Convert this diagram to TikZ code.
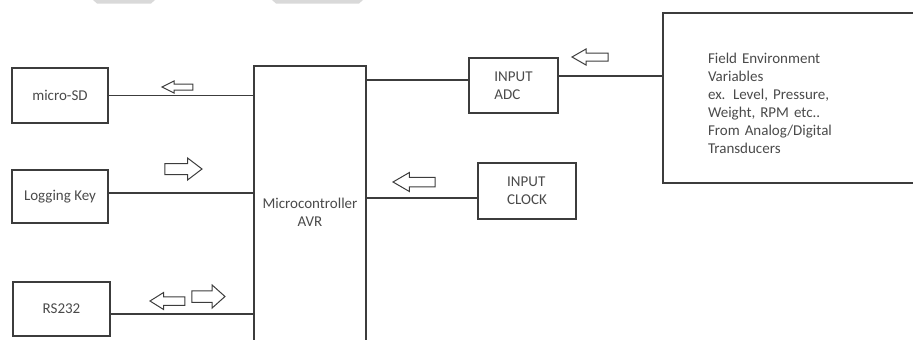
\documentclass[tikz,border=0pt]{standalone}
\usepackage{fontspec}
\setmainfont{Carlito}
\definecolor{linegrey}{HTML}{3C3C3C}
\definecolor{txtgrey}{HTML}{4A4A4A}
\definecolor{tabgrey}{HTML}{D9D9D9}
\begin{document}
\begin{tikzpicture}[
        x=1pt, y=-1pt,
        line width=1.2pt,
        every node/.style={font=\fontsize{15}{18}\selectfont, text=txtgrey},
        block/.style={draw=linegrey, rectangle, inner sep=0pt},
        wire/.style={draw=linegrey},
        hollow/.pic={\draw[linegrey, line width=1pt, line join=miter]
            (0,0) -- (14,-10) -- (14,-5) -- (36,-5) -- (36,5) -- (14,5) -- (14,10) -- cycle;},
    ]
        \useasboundingbox (0,0) rectangle (913,340);
        \clip (0,0) rectangle (913,340);

        % Tabs at the top edge
        \fill[tabgrey] (93,0) -- (155,0) -- (151,3.5) -- (97,3.5) -- cycle;
        \fill[tabgrey] (272,0) -- (363,0) -- (359,3.5) -- (276,3.5) -- cycle;

        % Blocks
        \node[block, minimum width=96pt, minimum height=55pt] (sd) at (60,95.5) {micro-SD};
        \node[block, minimum width=96pt, minimum height=53pt] (key) at (60,196.5) {Logging Key};
        \node[block, minimum width=97pt, minimum height=54pt] (rs) at (61.5,309) {RS232};
        \node[block, minimum width=112pt, minimum height=292pt, align=center] (mcu) at (310,212) {Microcontroller\\AVR};
        \node[block, minimum width=89pt, minimum height=55pt, align=left] (adc) at (513.5,85.5) {INPUT\\ADC};
        \node[block, minimum width=98pt, minimum height=56pt, align=left] (clock) at (527,191) {INPUT\\CLOCK};
        \node[block, minimum height=170pt, text width=200pt, text height=21pt, inner xsep=45pt, align=left] (field) at (808,98)
            {Field Environment\\Variables\\ex. Level, Pressure,\\Weight, RPM etc..\\From Analog/Digital\\Transducers};

        % Connections
        \draw[wire] (sd.east) -- (sd.east -| mcu.west);
        \draw[wire] ([yshift=3.5pt]key.east) -- ([yshift=3.5pt]key.east -| mcu.west);
        \draw[wire] ([yshift=-5pt]rs.east) -- ([yshift=-5pt]rs.east -| mcu.west);
        \draw[wire] ([yshift=5.5pt]adc.west) -- ([yshift=5.5pt]adc.west -| mcu.east);
        \draw[wire] ([yshift=9.5pt]adc.east) -- ([yshift=9.5pt]adc.east -| field.west);
        \draw[wire] ([yshift=-7pt]clock.west) -- ([yshift=-7pt]clock.west -| mcu.east);

        % Data direction
        \pic[xscale=0.86, yscale=0.6] at (162,87) {hollow};
        \pic[xscale=-1.03, yscale=1.1] at (202,169) {hollow};
        \pic[xscale=0.97, yscale=0.85] at (150,301) {hollow};
        \pic[xscale=-0.92, yscale=1.15] at (225,296.5) {hollow};
        \pic[xscale=1, yscale=0.8] at (572,57) {hollow};
        \pic[xscale=1.17, yscale=0.95] at (393,182) {hollow};
    \end{tikzpicture}
\end{document}
